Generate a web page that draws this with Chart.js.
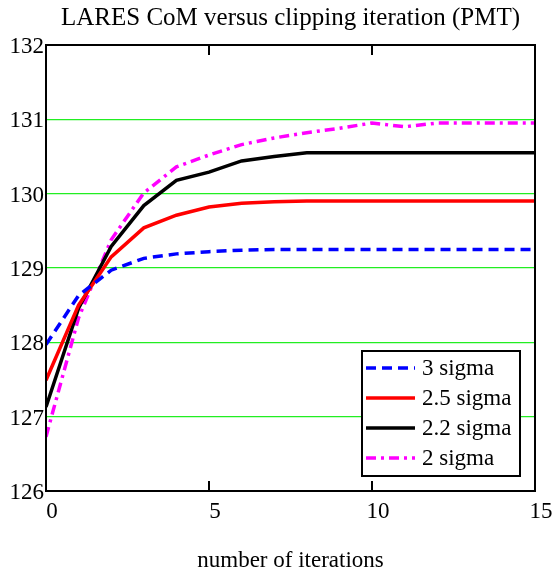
<!DOCTYPE html>
<html>
<head>
<meta charset="utf-8">
<script src="https://cdn.jsdelivr.net/npm/chart.js@4"></script>
<style>
  html, body { margin: 0; padding: 0; background: #fff; }
  #wrap { width: 554px; height: 575px; }
</style>
</head>
<body>
<div id="wrap"><canvas id="chartCom" width="554" height="575"></canvas></div>
<script>
const iterations = [0, 1, 2, 3, 4, 5, 6, 7, 8, 9, 10, 11, 12, 13, 14, 15];
const sigma3 = [127.97, 128.63, 128.97, 129.13, 129.19, 129.22, 129.24, 129.25, 129.25, 129.25, 129.25, 129.25, 129.25, 129.25, 129.25, 129.25];
const sigma25 = [127.49, 128.5, 129.15, 129.54, 129.71, 129.82, 129.87, 129.89, 129.9, 129.9, 129.9, 129.9, 129.9, 129.9, 129.9, 129.9];
const sigma22 = [127.13, 128.46, 129.29, 129.84, 130.18, 130.29, 130.44, 130.5, 130.55, 130.55, 130.55, 130.55, 130.55, 130.55, 130.55, 130.55];
const sigma2 = [126.73, 128.33, 129.38, 130.01, 130.36, 130.52, 130.66, 130.75, 130.82, 130.88, 130.95, 130.9, 130.95, 130.95, 130.95, 130.95];
const yTicks = [126, 127, 128, 129, 130, 131, 132];
const xTicks = [0, 5, 10, 15];

const serif = '"Liberation Serif", "Times New Roman", serif';

function pts(ys) {
    return iterations.map((x, i) => ({ x: x, y: ys[i] }));
}

// frame round the plot area, with the little inward ticks top and bottom
const framePlugin = {
    id: 'frame',
    afterDatasetsDraw(chart) {
        const a = chart.chartArea;
        const ctx = chart.ctx;
        const xs = chart.scales.x;
        ctx.save();
        ctx.strokeStyle = '#000';
        ctx.lineWidth = 2;
        ctx.strokeRect(a.left, a.top, a.right - a.left, a.bottom - a.top);
        ctx.beginPath();
        [5, 10].forEach(v => {
            const px = Math.round(xs.getPixelForValue(v));
            ctx.moveTo(px, a.top);
            ctx.lineTo(px, a.top + 10);
            ctx.moveTo(px, a.bottom);
            ctx.lineTo(px, a.bottom - 10);
        });
        ctx.stroke();
        ctx.restore();
    }
};

// boxed legend sitting inside the plot, bottom right
const boxLegend = {
    id: 'boxLegend',
    afterDraw(chart) {
        const a = chart.chartArea;
        const ctx = chart.ctx;
        const w = 158, h = 125;
        const left = a.right - 173, top = a.bottom - 140;
        ctx.save();
        ctx.fillStyle = '#fff';
        ctx.fillRect(left, top, w, h);
        ctx.strokeStyle = '#000';
        ctx.lineWidth = 2;
        ctx.strokeRect(left, top, w, h);
        ctx.font = '23px ' + serif;
        ctx.textBaseline = 'middle';
        chart.data.datasets.forEach((ds, i) => {
            const y = top + 17 + i * 30;
            ctx.beginPath();
            ctx.setLineDash(ds.borderDash || []);
            ctx.strokeStyle = ds.borderColor;
            ctx.lineWidth = 3.5;
            ctx.moveTo(left + 4, y);
            ctx.lineTo(left + 53, y);
            ctx.stroke();
            ctx.setLineDash([]);
            ctx.fillStyle = '#000';
            ctx.fillText(ds.label, left + 60, y + 1);
        });
        ctx.restore();
    }
};

const chartCom = new Chart(document.getElementById('chartCom'), {
    type: 'line',
    data: {
        datasets: [
            { label: '3 sigma', data: pts(sigma3), borderColor: '#0000ff', borderDash: [10, 6] },
            { label: '2.5 sigma', data: pts(sigma25), borderColor: '#ff0000' },
            { label: '2.2 sigma', data: pts(sigma22), borderColor: '#000000' },
            { label: '2 sigma', data: pts(sigma2), borderColor: '#ff00ff', borderDash: [10, 5, 3, 5] }
        ]
    },
    options: {
        responsive: false,
        animation: false,
        events: [],
        layout: { padding: { left: 0, right: 19, top: 0, bottom: 0 } },
        elements: {
            point: { radius: 0 },
            line: { borderWidth: 3.5, tension: 0, fill: false }
        },
        plugins: {
            legend: { display: false },
            tooltip: { enabled: false },
            title: {
                display: true,
                fullSize: false,
                text: 'LARES CoM versus clipping iteration (PMT)',
                color: '#000',
                font: { family: serif, size: 25, weight: 'normal' },
                padding: { top: 3, bottom: 12 }
            }
        },
        scales: {
            x: {
                type: 'linear',
                min: 0,
                max: 15,
                afterBuildTicks: s => { s.ticks = xTicks.map(v => ({ value: v })); },
                afterFit: s => { s.height = 84; },
                grid: { display: false, drawTicks: false },
                border: { display: false },
                ticks: { color: '#000', font: { family: serif, size: 23 }, padding: 7, labelOffset: 6, maxRotation: 0 },
                title: {
                    display: true,
                    text: 'number of iterations',
                    color: '#000',
                    font: { family: serif, size: 23 },
                    padding: { top: 0, bottom: 0 }
                }
            },
            y: {
                min: 126,
                max: 132,
                afterBuildTicks: s => { s.ticks = yTicks.map(v => ({ value: v })); },
                afterFit: s => { s.width = 46; },
                grid: {
                    drawTicks: false,
                    color: ctx => (ctx.tick && (ctx.tick.value === 126 || ctx.tick.value === 132)) ? 'rgba(0,0,0,0)' : '#22ee22',
                    lineWidth: 1.2
                },
                border: { display: false },
                ticks: { color: '#000', font: { family: serif, size: 23 }, padding: 2, labelOffset: 2 }
            }
        }
    },
    plugins: [framePlugin, boxLegend]
});
</script>
</body>
</html>
